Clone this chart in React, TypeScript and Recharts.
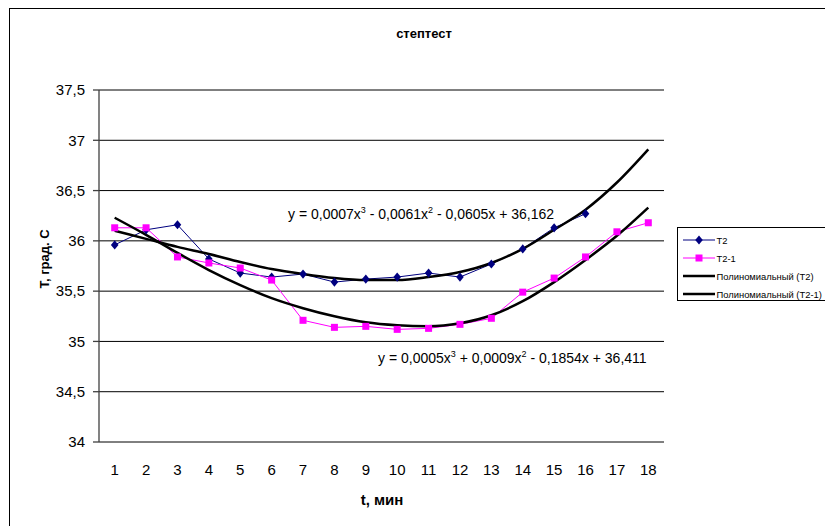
import React from "react";
import { LineChart, Line, XAxis, YAxis, CartesianGrid, Legend } from "recharts";

// minutes on the category axis
const minutes = [1, 2, 3, 4, 5, 6, 7, 8, 9, 10, 11, 12, 13, 14, 15, 16, 17, 18];
// T2 was only measured up to minute 16
const t2 = [35.96, 36.11, 36.16, 35.82, 35.68, 35.64, 35.67, 35.59, 35.62, 35.64, 35.68, 35.64, 35.77, 35.92, 36.13, 36.27];
const t21 = [36.13, 36.13, 35.84, 35.78, 35.73, 35.61, 35.21, 35.14, 35.15, 35.12, 35.13, 35.17, 35.23, 35.49, 35.63, 35.84, 36.09, 36.18];
// polynomial trendlines as drawn in the original, read per minute
const trendT2 = [36.1, 36.02, 35.94, 35.87, 35.79, 35.72, 35.67, 35.63, 35.61, 35.61, 35.64, 35.69, 35.78, 35.92, 36.11, 36.31, 36.58, 36.91];
const trendT21 = [36.23, 36.06, 35.88, 35.71, 35.56, 35.43, 35.33, 35.25, 35.19, 35.16, 35.15, 35.18, 35.26, 35.4, 35.59, 35.81, 36.05, 36.33];

const yTicks = [34, 34.5, 35, 35.5, 36, 36.5, 37, 37.5];
const boundaryTicks = [0.5, 1.5, 2.5, 3.5, 4.5, 5.5, 6.5, 7.5, 8.5, 9.5, 10.5, 11.5, 12.5, 13.5, 14.5, 15.5, 16.5, 17.5, 18.5];

const chartTitle = "стептест";
const xTitle = "t, мин";
const yTitle = "T, град. С";
const eqT2 = ["y = 0,0007x", "3", " - 0,0061x", "2", " - 0,0605x + 36,162"];
const eqT21 = ["y = 0,0005x", "3", " + 0,0009x", "2", " - 0,1854x + 36,411"];

const FONT = "'Liberation Sans', Arial, sans-serif";
const NAVY = "#000080";
const MAGENTA = "#FF00FF";

const rows = minutes.map((t, i) => ({
  t,
  t2: i < t2.length ? t2[i] : null,
  t21: t21[i],
  p2: trendT2[i],
  p21: trendT21[i],
}));

const comma = (v: number) => String(v).replace(".", ",");

function Diamond(props: any) {
  const { cx, cy } = props;
  if (cx == null || cy == null) return null;
  return <path d={`M${cx},${cy - 4.6} L${cx + 3.8},${cy} L${cx},${cy + 4.6} L${cx - 3.8},${cy} Z`} fill={NAVY} />;
}

function Square(props: any) {
  const { cx, cy } = props;
  if (cx == null || cy == null) return null;
  return <rect x={cx - 3.5} y={cy - 3.5} width={7} height={7} fill={MAGENTA} />;
}

function LegendBox({ payload }: any) {
  return (
    <div
      style={{
        width: 160,
        height: 74,
        border: "1px solid #000",
        background: "#fff",
        boxSizing: "border-box",
      }}
    >
      <svg width={160} height={74} style={{ display: "block" }}>
        {(payload || []).map((p: any, i: number) => {
          const y = 12 + i * 18;
          const key = p.dataKey;
          const color = key === "t2" ? NAVY : key === "t21" ? MAGENTA : "#000";
          const sw = key === "p2" || key === "p21" ? 2.5 : 1;
          return (
            <g key={key}>
              <line x1={5} x2={37} y1={y} y2={y} stroke={color} strokeWidth={sw} />
              {key === "t2" && <Diamond cx={21} cy={y} />}
              {key === "t21" && <Square cx={21} cy={y} />}
              <text x={38.5} y={y + 3.5} fontSize={9.4} fontFamily={FONT} fill="#000">
                {p.value}
              </text>
            </g>
          );
        })}
      </svg>
    </div>
  );
}

export default function App() {
  return (
    <div
      style={{
        position: "fixed",
        left: 0,
        top: 0,
        width: 825,
        height: 526,
        overflow: "hidden",
        background: "#fff",
      }}
    >
      <div
        style={{
          position: "absolute",
          left: 9,
          top: 8,
          width: 840,
          height: 540,
          border: "1px solid #000",
        }}
      />
      <div style={{ position: "absolute", left: 0, top: 0 }}>
        <LineChart
          width={825}
          height={526}
          data={rows}
          margin={{ top: 90, right: 161, bottom: 54, left: 39 }}
          style={{ fontFamily: FONT }}
        >
          <CartesianGrid vertical={false} stroke="#000" strokeWidth={1} />
          <XAxis
            xAxisId="ticks"
            dataKey="t"
            type="number"
            domain={[0.5, 18.5]}
            ticks={boundaryTicks}
            tick={false}
            tickSize={5}
            height={0}
            stroke="#404040"
            strokeWidth={1.3}
          />
          <XAxis
            xAxisId="labels"
            dataKey="t"
            type="number"
            domain={[0.5, 18.5]}
            ticks={minutes}
            interval={0}
            axisLine={false}
            tickLine={false}
            tickSize={0}
            tickMargin={22}
            height={30}
            tick={{ fill: "#000", fontSize: 15, fontFamily: FONT }}
          />
          <YAxis
            domain={[34, 37.5]}
            ticks={yTicks}
            width={60}
            tickSize={6}
            tickMargin={8}
            stroke="#404040"
            strokeWidth={1.3}
            tickFormatter={comma}
            tick={{ fill: "#000", fontSize: 15, fontFamily: FONT }}
          />
          <Legend
            layout="vertical"
            align="center"
            verticalAlign="middle"
            wrapperStyle={{ left: 677, top: 227, width: 160 }}
            content={<LegendBox />}
          />
          <Line
            xAxisId="ticks"
            name="T2"
            dataKey="t2"
            type="linear"
            stroke={NAVY}
            strokeWidth={1}
            dot={<Diamond />}
            activeDot={false}
            isAnimationActive={false}
          />
          <Line
            xAxisId="ticks"
            name="T2-1"
            dataKey="t21"
            type="linear"
            stroke={MAGENTA}
            strokeWidth={1}
            dot={<Square />}
            activeDot={false}
            isAnimationActive={false}
          />
          <Line
            xAxisId="ticks"
            name="Полиномиальный (T2)"
            dataKey="p2"
            type="monotone"
            stroke="#000"
            strokeWidth={2.5}
            dot={false}
            activeDot={false}
            isAnimationActive={false}
          />
          <Line
            xAxisId="ticks"
            name="Полиномиальный (T2-1)"
            dataKey="p21"
            type="monotone"
            stroke="#000"
            strokeWidth={2.5}
            dot={false}
            activeDot={false}
            isAnimationActive={false}
          />
        </LineChart>
      </div>
      <svg
        width={825}
        height={526}
        style={{ position: "absolute", left: 0, top: 0, pointerEvents: "none" }}
        fontFamily={FONT}
      >
        <text x={424} y={38} textAnchor="middle" fontSize={13} fontWeight="bold">
          {chartTitle}
        </text>
        <text x={382} y={505} textAnchor="middle" fontSize={15} fontWeight="bold">
          {xTitle}
        </text>
        <text
          x={49}
          y={259}
          textAnchor="middle"
          fontSize={13}
          fontWeight="bold"
          transform="rotate(-90, 49, 259)"
        >
          {yTitle}
        </text>
        <text x={288} y={219} fontSize={14}>
          {eqT2[0]}
          <tspan dy={-6} fontSize={9}>{eqT2[1]}</tspan>
          <tspan dy={6}>{eqT2[2]}</tspan>
          <tspan dy={-6} fontSize={9}>{eqT2[3]}</tspan>
          <tspan dy={6}>{eqT2[4]}</tspan>
        </text>
        <text x={378} y={363} fontSize={14}>
          {eqT21[0]}
          <tspan dy={-6} fontSize={9}>{eqT21[1]}</tspan>
          <tspan dy={6}>{eqT21[2]}</tspan>
          <tspan dy={-6} fontSize={9}>{eqT21[3]}</tspan>
          <tspan dy={6}>{eqT21[4]}</tspan>
        </text>
      </svg>
    </div>
  );
}
